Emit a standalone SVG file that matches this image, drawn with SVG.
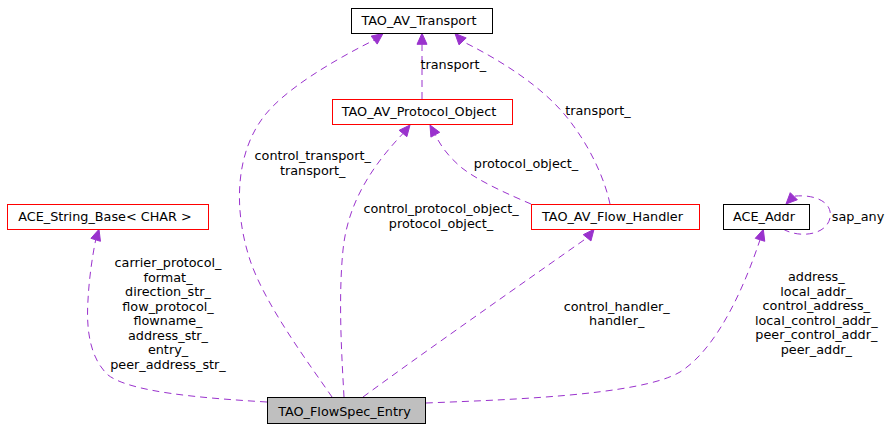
<svg xmlns="http://www.w3.org/2000/svg" width="893" height="429" viewBox="0 0 893 429">
<style>
  text { font-family: "DejaVu Sans", "Liberation Sans", sans-serif; font-size: 12.8px; fill: #000; }
  .node text { text-anchor: middle; }
  .lbl { text-anchor: middle; }
  .box { fill: #fff; stroke: #000; stroke-width: 1; }
  .red { stroke: #ff0000; }
  .grey { fill: #bfbfbf; }
  .edge path { fill: none; stroke: #9a32cd; stroke-width: 1; stroke-dasharray: 7,5; }
  .edge polygon { fill: #9a32cd; stroke: #9a32cd; stroke-width: 1; }
</style>
<rect x="0" y="0" width="893" height="429" fill="#fff"/>
<g id="connectors">
  <g class="edge" id="e_flowspec_transport">
    <path d="M332,397 C310,365 265,305 250,260 C232,205 237,150 265,115 C285,90 330,62 374.2,40.1"/>
    <polygon points="383,33.5 377.2,44.1 371.2,36.1"/>
  </g>
  <g class="edge" id="e_flowspec_protocol">
    <path d="M344,397 C342,360 338,300 343,250 C348,200 375,163 403,133.5"/>
    <polygon points="410,125 406.85,136.7 399.15,130.3"/>
  </g>
  <g class="edge" id="e_protocol_transport">
    <path d="M422,99 L422,44.3"/>
    <polygon points="422,33.3 417,44.3 427,44.3"/>
  </g>
  <g class="edge" id="e_handler_transport">
    <path d="M610,204 C605,180 590,145 565,115 C540,85 500,60 462.6,41.4"/>
    <polygon points="455,33.5 466.2,37.95 459,44.85"/>
  </g>
  <g class="edge" id="e_handler_protocol">
    <path d="M531,204 C510,195 480,182 462,168 C450,158 441,147 435.3,134.7"/>
    <polygon points="430,125 439.7,132.3 430.9,137.1"/>
  </g>
  <g class="edge" id="e_flowspec_handler">
    <path d="M363,397 C420,355 530,278 587.1,237.8"/>
    <polygon points="594,229.3 590.95,240.95 583.25,234.65"/>
  </g>
  <g class="edge" id="e_flowspec_addr">
    <path d="M426,403 C500,400 640,396 680,372 C718,348 745,285 760,239.8"/>
    <polygon points="763.3,229.3 764.75,241.3 755.25,238.3"/>
  </g>
  <g class="edge" id="e_flowspec_string">
    <path d="M267,402 C200,398 130,392 108,375 C90,358 86,330 88,300 C89,280 92,258 95.7,239.8"/>
    <polygon points="99,229.3 100.45,241.3 90.95,238.3"/>
  </g>
  <g class="edge" id="e_addr_self">
    <path d="M783,229 C798,238 826,236 830,218 C833,202 815,194 793.8,196.2"/>
    <polygon points="786,204 797.35,199.75 790.25,192.65"/>
  </g>
  <g id="edge-labels">
    <text class="lbl" x="312.7" y="160">control_transport_</text>
    <text class="lbl" x="312.7" y="174.5">transport_</text>
    <text x="420.5" y="69">transport_</text>
    <text class="lbl" x="598" y="115">transport_</text>
    <text class="lbl" x="526" y="168">protocol_object_</text>
    <text class="lbl" x="441" y="212.5">control_protocol_object_</text>
    <text class="lbl" x="441" y="227.5">protocol_object_</text>
    <text class="lbl" x="616.7" y="311">control_handler_</text>
    <text class="lbl" x="616.7" y="325">handler_</text>
    <text class="lbl" x="858" y="220.5">sap_any</text>
    <text class="lbl" x="168" y="267">carrier_protocol_</text>
    <text class="lbl" x="168" y="281.5">format_</text>
    <text class="lbl" x="168" y="296">direction_str_</text>
    <text class="lbl" x="168" y="310.5">flow_protocol_</text>
    <text class="lbl" x="168" y="325">flowname_</text>
    <text class="lbl" x="168" y="339.5">address_str_</text>
    <text class="lbl" x="168" y="354">entry_</text>
    <text class="lbl" x="168" y="368.5">peer_address_str_</text>
    <text class="lbl" x="816.3" y="281">address_</text>
    <text class="lbl" x="816.3" y="295.5">local_addr_</text>
    <text class="lbl" x="816.3" y="310">control_address_</text>
    <text class="lbl" x="816.3" y="324.5">local_control_addr_</text>
    <text class="lbl" x="816.3" y="339">peer_control_addr_</text>
    <text class="lbl" x="816.3" y="353.5">peer_addr_</text>
  </g>
</g>
<g class="node" id="n_transport">
  <rect class="box" x="351.5" y="8.5" width="141" height="25"/>
  <text x="419" y="25">TAO_AV_Transport</text>
</g>
<g class="node" id="n_protocol">
  <rect class="box red" x="332.5" y="99.5" width="180" height="25"/>
  <text x="419" y="116">TAO_AV_Protocol_Object</text>
</g>
<g class="node" id="n_string">
  <rect class="box red" x="7.5" y="204.5" width="201" height="25"/>
  <text x="105" y="221">ACE_String_Base&lt; CHAR &gt;</text>
</g>
<g class="node" id="n_handler">
  <rect class="box red" x="531.5" y="204.5" width="168" height="25"/>
  <text x="612.5" y="221">TAO_AV_Flow_Handler</text>
</g>
<g class="node" id="n_addr">
  <rect class="box" x="723.5" y="204.5" width="86" height="25"/>
  <text x="764" y="221">ACE_Addr</text>
</g>
<g class="node" id="n_flowspec">
  <rect class="box grey" x="267.5" y="397.5" width="158" height="26"/>
  <text x="344.5" y="415.5">TAO_FlowSpec_Entry</text>
</g>
</svg>
